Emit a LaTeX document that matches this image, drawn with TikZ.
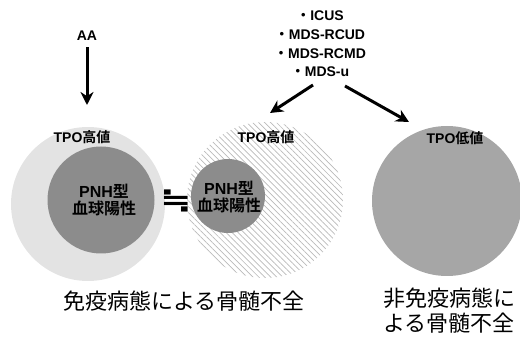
\documentclass[tikz,border=0pt]{standalone}
\usepackage{graphicx}
\usepackage{fontspec}
\setmainfont{Noto Sans CJK JP}
\newfontfamily\jpb{Noto Sans CJK JP Bold}
\newfontfamily\lat{Liberation Sans Bold}
\newfontfamily\dvs{DejaVu Sans Bold}
\usetikzlibrary{arrows.meta,patterns.meta}
\begin{document}
\begin{tikzpicture}[x=1pt,y=-1pt,
  lbl/.style={font=\jpb\fontsize{14}{15}\selectfont, inner sep=0pt},
  captext/.style={font=\fontsize{22}{25}\selectfont, inner sep=0pt, align=center},
  arr/.style={line width=3pt, -{Stealth[length=13pt,width=13pt]}},
  ring/.style={circle, draw=none, inner sep=0pt}
]
\useasboundingbox (0,0) rectangle (520,339);
% circles
\node[ring, minimum size=154pt, fill=gray!22] (o1) at (88,204) {};
\node[ring, minimum size=156pt, pattern={Lines[angle=-45,distance=4.2pt,line width=0.7pt]}, pattern color=gray!55] (o2) at (265,200) {};
\node[ring, minimum size=150pt, fill=gray!70] (o3) at (447,201) {};
\node[ring, minimum size=107pt, fill=gray!90] (i1) at (101,200) {};
\node[ring, minimum size=74pt, fill=gray!90] (i2) at (228,196) {};
% labels
\node[lbl] (t1) at (82,137) {{\lat TPO}高値};
\node[lbl] (t2) at (266,137) {{\lat TPO}高値};
\node[lbl] (t3) at (455,138) {{\lat TPO}低値};
\node[lbl, align=center, font=\jpb\fontsize{16}{17}\selectfont] (p1) at (104,200) {{\lat PNH}型\\血球陽性};
\node[lbl, align=center, font=\jpb\fontsize{16}{17}\selectfont] (p2) at (229,197) {{\lat PNH}型\\血球陽性};
\node[inner sep=0pt, font=\dvs\fontsize{26}{26}\selectfont] (eq) at (176,201) {\scalebox{1.45}[1.05]{≒}};
% top texts
\node[lbl, font=\lat\fontsize{14}{15}\selectfont] (aa) at (87,36) {AA};
\coordinate (aaend) at (87,105);
\draw[arr] (aa.south) ++(0,6) -- (aaend);
\node[lbl, align=center, font=\lat\fontsize{14}{18.7}\selectfont] (list) at (320,44) {{\jpb ・}ICUS\\{\jpb ・}MDS-RCUD\\{\jpb ・}MDS-RCMD\\{\jpb ・}MDS-u};
\coordinate (ls) at (313,85);
\coordinate (le) at (270,113);
\coordinate (rs) at (345,86);
\coordinate (re) at (409,122);
\draw[arr] (ls) -- (le);
\draw[arr] (rs) -- (re);
% captions
\node[captext] (c1) at (184,301) {免疫病態による骨髄不全};
\node[captext] (c2) at (449,311) {非免疫病態に\\よる骨髄不全};
\end{tikzpicture}
\end{document}
